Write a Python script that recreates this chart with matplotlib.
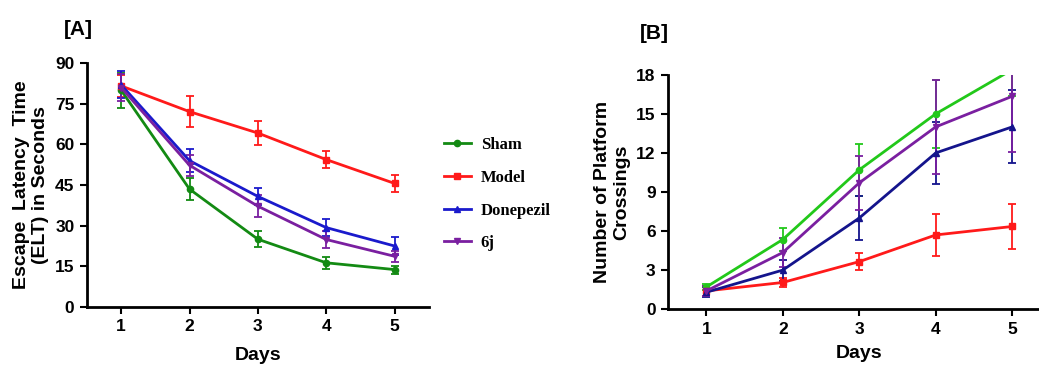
import matplotlib
matplotlib.use("Agg")
import matplotlib.pyplot as plt

plt.rcParams['font.family'] = ['Liberation Sans', 'DejaVu Sans']
plt.rcParams['font.weight'] = 'bold'

days = [1, 2, 3, 4, 5]
groups = ["Sham", "Model", "Donepezil", "6j"]
markers = ["o", "s", "^", "v"]

# panel A: escape latency (s)
elt_mean = {
    "Sham": [80.0, 43.5, 25.0, 16.3, 13.8],
    "Model": [81.6, 72.1, 64.2, 54.4, 45.6],
    "Donepezil": [82.0, 54.0, 40.8, 29.3, 22.5],
    "6j": [81.0, 52.3, 37.2, 24.9, 18.7],
}
elt_err = {
    "Sham": [6.5, 4.0, 3.0, 2.2, 1.5],
    "Model": [4.0, 5.6, 4.5, 3.2, 3.2],
    "Donepezil": [5.0, 4.3, 3.0, 3.0, 3.3],
    "6j": [5.0, 3.8, 4.0, 3.0, 2.0],
}
colors_a = {"Sham": "#138a13", "Model": "#ff1a1a", "Donepezil": "#1a1acc", "6j": "#7a1fa0"}

# panel B: platform crossings
cross_mean = {
    "Sham": [1.7, 5.35, 10.7, 15.0, 18.4],
    "Model": [1.4, 2.05, 3.65, 5.7, 6.35],
    "Donepezil": [1.3, 3.0, 7.0, 12.0, 14.0],
    "6j": [1.4, 4.35, 9.7, 14.0, 16.35],
}
cross_err = {
    "Sham": [0.2, 0.9, 2.0, 2.6, 2.0],
    "Model": [0.4, 0.35, 0.65, 1.6, 1.75],
    "Donepezil": [0.4, 0.8, 1.7, 2.4, 2.8],
    "6j": [0.4, 1.1, 2.1, 3.6, 4.3],
}
colors_b = {"Sham": "#22c81a", "Model": "#ff1a1a", "Donepezil": "#14148c", "6j": "#7a1fa0"}

fig = plt.figure(figsize=(10.39, 3.65), dpi=100)
ax1 = fig.add_axes([0.0837, 0.159, 0.329, 0.668])
ax2 = fig.add_axes([0.643, 0.153, 0.368, 0.642])


def style_axis(ax):
    for s in ["top", "right"]:
        ax.spines[s].set_visible(False)
    for s in ["left", "bottom"]:
        ax.spines[s].set_linewidth(2)
    ax.tick_params(direction="out", length=5, width=1.5, labelsize=12.5, pad=4)
    for lbl in ax.get_xticklabels() + ax.get_yticklabels():
        lbl.set_fontweight("bold")
    ax.set_xlabel("Days", fontsize=14, fontweight="bold", labelpad=9)


handles = []
for g, m in zip(groups, markers):
    h = ax1.errorbar(days, elt_mean[g], yerr=elt_err[g], color=colors_a[g], marker=m,
                     markersize=4.5, linewidth=2, elinewidth=1.3, capsize=3, capthick=1.3,
                     label=g)
    handles.append(h[0])
ax1.set_xlim(0.5, 5.5)
ax1.set_ylim(0, 90)
ax1.set_xticks(days)
ax1.set_yticks(range(0, 91, 15))
ax1.set_ylabel("Escape  Latency  Time\n(ELT) in Seconds", fontsize=14, fontweight="bold",
               labelpad=4)
style_axis(ax1)

for g, m in zip(groups, markers):
    ax2.errorbar(days, cross_mean[g], yerr=cross_err[g], color=colors_b[g], marker=m,
                 markersize=4.5, linewidth=2, elinewidth=1.3, capsize=3, capthick=1.3)
ax2.set_xlim(0.5, 5.5)
ax2.set_ylim(0, 18)
ax2.set_xticks(days)
ax2.set_yticks(range(0, 19, 3))
ax2.set_ylabel("Number of Platform\nCrossings", fontsize=14, fontweight="bold", labelpad=4)
style_axis(ax2)
ax2.xaxis.labelpad = 6

fig.text(0.061, 0.905, "[A]", fontsize=15, fontweight="bold")
fig.text(0.616, 0.892, "[B]", fontsize=15, fontweight="bold")

fig.legend(handles=handles, labels=groups, loc="upper left", bbox_to_anchor=(0.413, 0.665),
           frameon=False, handlelength=1.6, labelspacing=1.0, handletextpad=0.6,
           prop={"family": "Liberation Serif", "weight": "bold", "size": 12})

fig.savefig("out.png", dpi=100)
